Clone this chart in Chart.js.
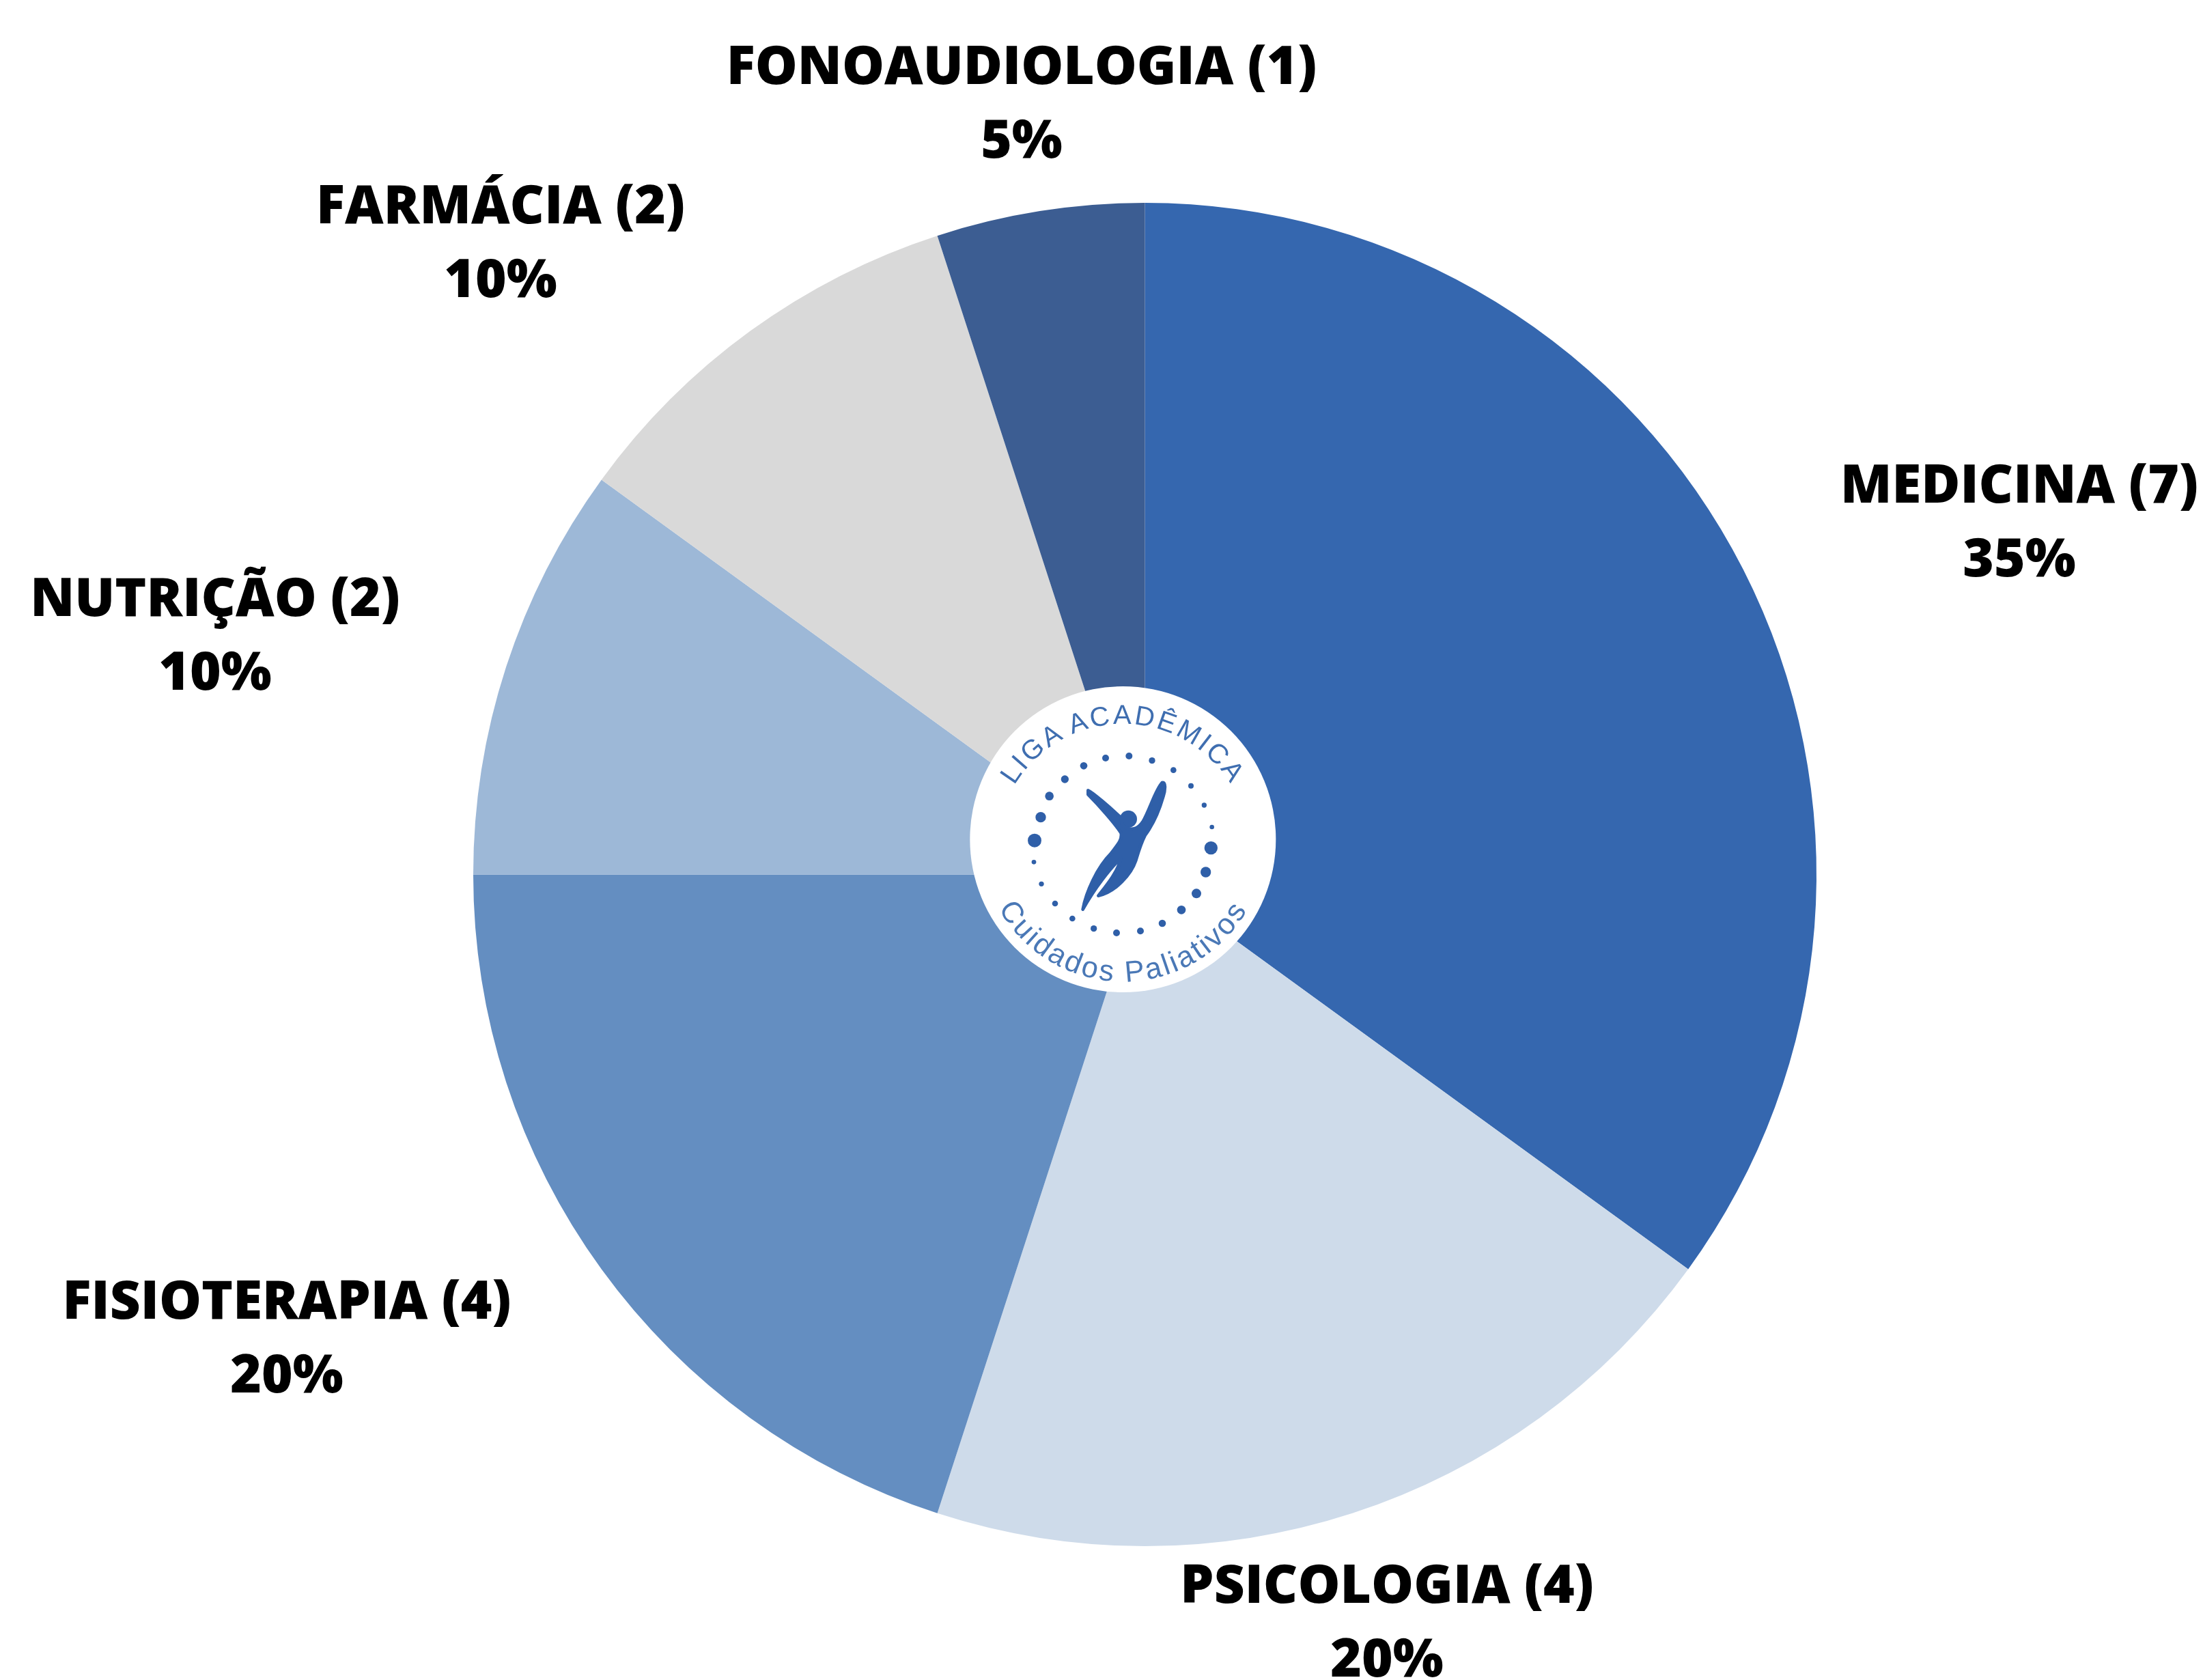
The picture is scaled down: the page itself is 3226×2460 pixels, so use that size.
<!DOCTYPE html>
<html lang="pt">
<head>
<meta charset="utf-8">
<style>
html,body{margin:0;padding:0;background:#fff;width:3226px;height:2460px;overflow:hidden}
#wrap{position:relative;width:3226px;height:2460px}
canvas{position:absolute;left:0;top:0}
#logo{position:absolute;left:1380px;top:960px;width:520px;height:520px}
</style>
<script src="https://cdn.jsdelivr.net/npm/chart.js@4/dist/chart.umd.min.js"></script>
</head>
<body>
<div id="wrap">
<canvas id="c" width="3226" height="2460"></canvas>
<svg id="logo" viewBox="0 0 1560 1560" xmlns="http://www.w3.org/2000/svg">
  <defs>
    <path id="arcTop" d="M 238 855 A 555 555 0 0 1 1348 855"/>
    <path id="arcBot" d="M 166 803 A 629 629 0 0 0 1424 803"/>
  </defs>
  <circle cx="793" cy="807" r="672" fill="#fff"/>
  <text font-family="Liberation Sans" font-size="120" fill="#3f6eb0" letter-spacing="10" text-anchor="middle"><textPath href="#arcTop" startOffset="50%">LIGA ACADÊMICA</textPath></text>
  <text font-family="Liberation Sans" font-size="130" fill="#4a78b6" letter-spacing="10" text-anchor="middle"><textPath href="#arcBot" startOffset="50%">Cuidados Paliativos</textPath></text>
  <g id="dots" fill="#2f5fa8"></g>
  <circle cx="817" cy="718" r="38" fill="#2f5fa8"/>
  <path fill="#2f5fa8" stroke="#2f5fa8" stroke-width="14" stroke-linejoin="round" d="M640 592 C660 600 740 670 785 712 L790 745 C830 775 860 760 880 730 C910 680 935 590 965 558 C982 552 980 590 970 620 C950 690 920 750 890 790 C870 830 862 860 850 900 C830 960 760 1040 685 1055 C720 1010 770 950 785 890 C740 930 670 1020 617 1115 C630 1040 680 930 740 870 C770 830 790 810 785 780 C760 740 690 660 640 610 Z"/>
</svg>
</div>
<script>
const categories = ['MEDICINA','PSICOLOGIA','FISIOTERAPIA','NUTRIÇÃO','FARMÁCIA','FONOAUDIOLOGIA'];
const counts = [7,4,4,2,2,1];
const percents = ['35%','20%','20%','10%','10%','5%'];
const colors = ['#3567AF','#CEDBEA','#648EC1','#9DB8D7','#D9D9D9','#3C5D92'];
const labelAnchors = [[2957,714],[2031,2325],[420,1909],[315,880],[733,305],[1496,101]];

const logoDots = [[405,812,30],[432,710,23],[470,617,19],[538,543,17],[621,484,16],[717,450,15],[820,441,15],[921,461,14],[1015,503,13],[1092,572,12],[1150,657,11],[1184,753,10],[1180,845,29],[1157,951,23],[1116,1045,21],[1050,1117,19],[966,1176,16],[870,1210,15],[765,1218,15],[665,1199,14],[571,1155,13],[495,1089,13],[435,1003,11],[402,907,10]];
const dotsGroup = document.getElementById('dots');
logoDots.forEach(([x,y,r])=>{
  const el = document.createElementNS('http://www.w3.org/2000/svg','circle');
  el.setAttribute('cx',x); el.setAttribute('cy',y); el.setAttribute('r',r);
  dotsGroup.appendChild(el);
});

const sliceLabels = {
  id:'sliceLabels',
  afterDraw(chart){
    const ctx = chart.ctx;
    ctx.save();
    ctx.fillStyle = '#000';
    ctx.textAlign = 'center';
    ctx.textBaseline = 'middle';
    ctx.font = '800 78px "Open Sans"';
    categories.forEach((name,i)=>{
      const [x,y] = labelAnchors[i];
      ctx.fillText(name+' ('+counts[i]+')', x, y);
      ctx.fillText(percents[i], x, y+108);
    });
    ctx.restore();
  }
};

new Chart(document.getElementById('c'),{
  type:'pie',
  data:{labels:categories,datasets:[{data:counts,backgroundColor:colors,borderWidth:0,hoverOffset:0}]},
  options:{
    responsive:false,
    animation:false,
    layout:{padding:{left:693,right:566,top:296,bottom:195}},
    plugins:{legend:{display:false},tooltip:{enabled:false},title:{display:false}}
  },
  plugins:[sliceLabels]
});
</script>
</body>
</html>
